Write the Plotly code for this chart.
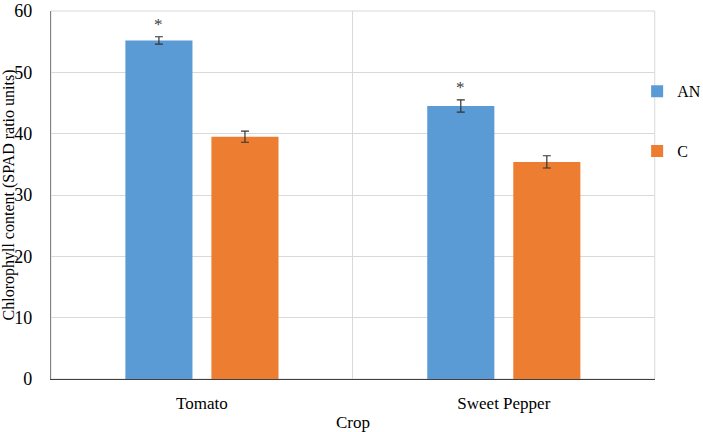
import plotly.graph_objects as go

crops = ["Tomato", "Sweet Pepper"]
an_values = [55.2, 44.5]
an_errors = [0.6, 1.0]
c_values = [39.5, 35.4]
c_errors = [0.9, 1.0]
an_sig = ["*", "*"]
y_ticks = [0, 10, 20, 30, 40, 50, 60]

FONT = "Liberation Serif"

fig = go.Figure()
fig.add_trace(go.Bar(
    name="AN", x=crops, y=an_values, legendgroup="an",
    marker=dict(color="#5b9bd5", line=dict(width=0)),
    error_y=dict(type="data", array=an_errors, color="#333333", thickness=1.2, width=4),
))
fig.add_trace(go.Bar(
    name="C", x=crops, y=c_values, legendgroup="c",
    marker=dict(color="#ed7d31", line=dict(width=0)),
    error_y=dict(type="data", array=c_errors, color="#333333", thickness=1.2, width=4),
))

# significance asterisks above AN bars
for crop, v, e, s in zip(crops, an_values, an_errors, an_sig):
    fig.add_annotation(
        x=crop, y=v + e, text=s, showarrow=False,
        xref="x", yref="y", xshift=-43, yshift=12,
        font=dict(family=FONT, size=17, color="#404040"),
    )

# plot-area border (light grey, like the gridlines)
fig.add_shape(
    type="rect", xref="x domain", yref="y domain", x0=0, x1=1, y0=0, y1=1,
    line=dict(color="#d9d9d9", width=1), layer="below",
)

fig.update_layout(
    width=703, height=432,
    margin=dict(l=51, r=0, t=11, b=53, autoexpand=False),
    paper_bgcolor="white", plot_bgcolor="white",
    barmode="group", bargap=0.43, bargroupgap=0.22,
    font=dict(family=FONT, size=17, color="#000000"),
    legend=dict(
        x=0.899, y=0.828, xanchor="left", yanchor="top",
        font=dict(family=FONT, size=16, color="#000000"),
        tracegroupgap=36, itemwidth=30,
        bgcolor="rgba(0,0,0,0)",
    ),
    showlegend=True,
)
fig.update_xaxes(
    domain=[0, 0.926],
    title=dict(text="Crop", font=dict(family=FONT, size=17), standoff=4),
    tickson="boundaries", showgrid=True, gridcolor="#d9d9d9", gridwidth=1,
    showline=True, linecolor="#404040", linewidth=1.2,
    ticks="", tickfont=dict(family=FONT, size=17), ticklabelstandoff=8,
)
fig.update_yaxes(
    title=dict(text="Chlorophyll content (SPAD ratio units)", font=dict(family=FONT, size=16), standoff=8),
    range=[0, 60], tickvals=y_ticks,
    showgrid=True, gridcolor="#d9d9d9", gridwidth=1,
    showline=True, linecolor="#808080", linewidth=1.2,
    ticks="", tickfont=dict(family=FONT, size=18), zeroline=False,
    ticklabelstandoff=14, ticklabeloverflow="allow",
)

fig.write_html(
    "out.html",
    config={"displayModeBar": False},
    post_script="document.body.style.margin='0';document.body.style.overflow='hidden';",
)
